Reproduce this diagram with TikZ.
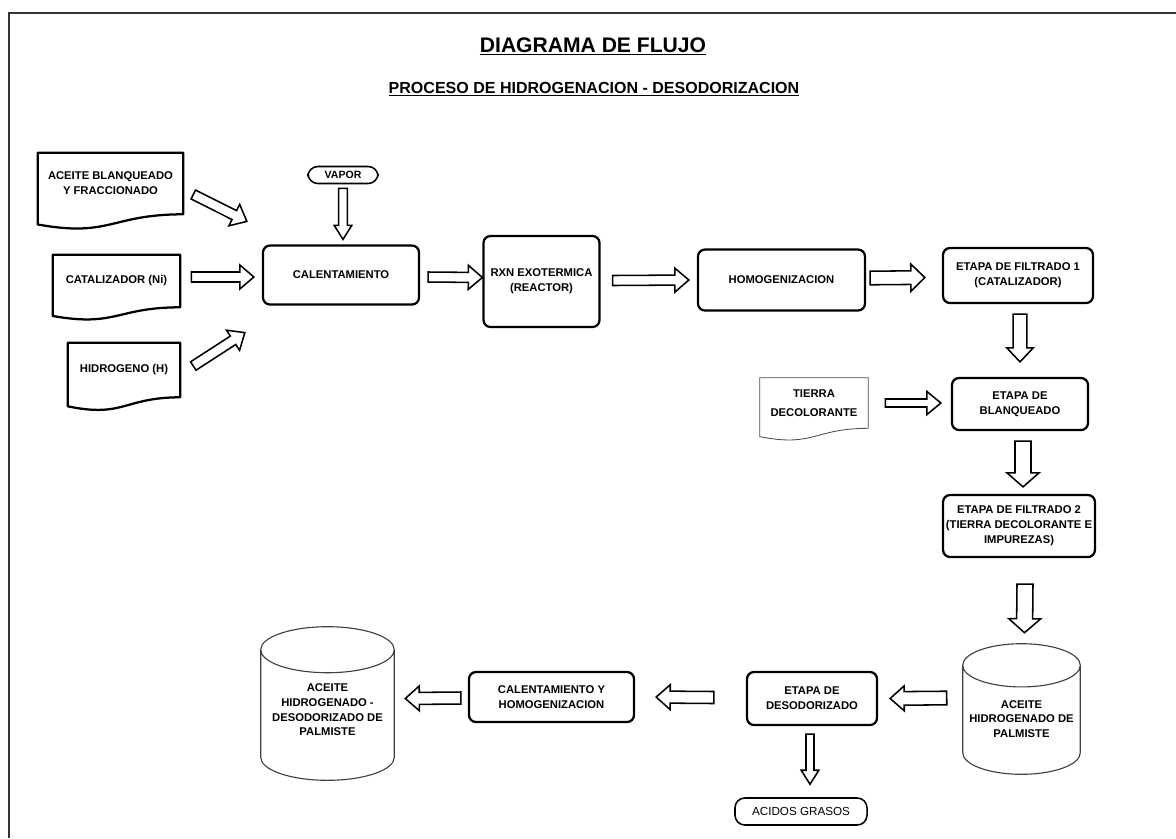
\documentclass[tikz,border=0pt]{standalone}
\usepackage{fontspec}
\setmainfont{Liberation Sans}
\usetikzlibrary{calc}

\tikzset{
  caja/.style={draw, line width=1.6pt, rounded corners=5pt, align=center, inner sep=2pt,
    font=\fontsize{8}{10.8}\selectfont\bfseries},
  doc/.style={align=center, inner sep=2pt, font=\fontsize{8}{10.5}\selectfont\bfseries},
  docline/.style={draw, line width=1.6pt, line join=round},
  docfino/.style={draw=black!70, line width=0.6pt},
  terminal/.style={draw, line width=1.1pt, rounded corners=7pt, align=center, inner sep=1pt},
  tanque/.style={align=center, inner sep=2pt, font=\fontsize{8}{10.4}\selectfont\bfseries},
  cyl/.style={draw=black!75, line width=0.8pt},
  bloque/.style={draw, line width=1.1pt, fill=white, line join=miter},
  cuerpo/.store in=\flcuerpo, punta/.store in=\flpunta, largo/.store in=\fllargo,
  cuerpo=0.125cm, punta=0.3cm, largo=0.35cm,
  ancha/.style={cuerpo=0.2cm, punta=0.4cm, largo=0.35cm}
}

% flecha de bloque hueca entre dos puntos
\newcommand{\flecha}[3][]{%
  \draw[bloque,#1] let \p1=(#2), \p2=(#3),
      \n1={atan2(\y2-\y1,\x2-\x1)}, \n2={veclen(\x2-\x1,\y2-\y1)} in
    ($(\p1)+(\n1+90:\flcuerpo)$)
    -- ($(\p1)+(\n1:\n2-\fllargo)+(\n1+90:\flcuerpo)$)
    -- ($(\p1)+(\n1:\n2-\fllargo)+(\n1+90:\flpunta)$)
    -- (\p2)
    -- ($(\p1)+(\n1:\n2-\fllargo)+(\n1-90:\flpunta)$)
    -- ($(\p1)+(\n1:\n2-\fllargo)+(\n1-90:\flcuerpo)$)
    -- ($(\p1)+(\n1-90:\flcuerpo)$) -- cycle;}

% contorno de documento (borde inferior ondulado)
\newcommand{\documento}[2][docline]{%
  \draw[#1] (#2.north west) -- (#2.north east) -- (#2.south east)
    .. controls (#2.south) and ($(#2.south)!-0.38!(#2.north)$)
    .. ($(#2.south west)!-0.165!(#2.north west)$) -- cycle;}

% cilindro (tanque)
\newcommand{\cilindro}[2]{%
  \draw[cyl] let \p1=(#1.north west), \p2=(#1.south east), \n1={(\x2-\x1)/2} in
    (\x1,\y1-#2) -- (\x1,\y2+#2)
    arc[start angle=180, end angle=360, x radius=\n1, y radius=#2] -- (\x2,\y1-#2)
    (\x1,\y1-#2) arc[start angle=180, end angle=-180, x radius=\n1, y radius=#2];}

\begin{document}
\begin{tikzpicture}[x=0.025cm, y=-0.025cm]
\useasboundingbox (0,0) rectangle (1176,838);
\draw[line width=1.3pt, black!80] (9,838) -- (9,13) -- (1176,13);

% titulos
\node[anchor=base, font=\fontsize{15}{18}\selectfont\bfseries] (titulo) at (593,52)
  {\underline{DIAGRAMA DE FLUJO}};
\node[anchor=base, font=\fontsize{11.4}{14}\selectfont\bfseries] (subtitulo) at (594,93)
  {\underline{PROCESO DE HIDROGENACION - DESODORIZACION}};

% entradas
\node[doc, minimum width=3.625cm, minimum height=1.525cm] (aceite) at (110.5,183.5)
  {ACEITE BLANQUEADO\\Y FRACCIONADO};
\node[doc, minimum width=3.175cm, minimum height=1.3cm] (catal) at (116.5,281) {CATALIZADOR (Ni)};
\node[doc, minimum width=2.8cm, minimum height=1.35cm] (hidro) at (124,370) {HIDROGENO (H)};
\node[doc, minimum width=2.7cm, minimum height=1.25cm, font=\fontsize{8}{13.5}\selectfont\bfseries]
  (tierra) at (814,403) {TIERRA\\DECOLORANTE};
\documento{aceite}
\documento{catal}
\documento{hidro}
\documento[docfino]{tierra}

\node[terminal, minimum width=1.75cm, minimum height=0.425cm,
  font=\fontsize{7.5}{9}\selectfont\bfseries] (vapor) at (343,175) {VAPOR};
\node[terminal, minimum width=3.3cm, minimum height=0.675cm,
  font=\fontsize{8.3}{10}\selectfont] (acidos) at (801,811.5) {ACIDOS GRASOS};

% etapas del proceso
\node[caja, minimum width=3.9cm, minimum height=1.475cm] (cal) at (341,275) {CALENTAMIENTO};
\node[caja, minimum width=2.9cm, minimum height=2.275cm] (rxn) at (541.5,281.5) {RXN EXOTERMICA\\(REACTOR)};
\node[caja, minimum width=4.175cm, minimum height=1.525cm] (homo) at (781.5,280) {HOMOGENIZACION};
\node[caja, minimum width=3.75cm, minimum height=1.375cm] (filt1) at (1018,275.5)
  {ETAPA DE FILTRADO 1\\(CATALIZADOR)};
\node[caja, minimum width=3.4cm, minimum height=1.3cm] (blanq) at (1020,404) {ETAPA DE\\BLANQUEADO};
\node[caja, minimum width=3.7cm, minimum height=1.55cm] (filt2) at (1019,526)
  {ETAPA DE FILTRADO 2\\(TIERRA DECOLORANTE E\\IMPUREZAS)};
\node[caja, minimum width=3.25cm, minimum height=1.325cm] (desod) at (812,698.5) {ETAPA DE\\DESODORIZADO};
\node[caja, minimum width=4.125cm, minimum height=1.25cm] (calhom) at (551.5,697)
  {CALENTAMIENTO Y\\HOMOGENIZACION};

% tanques
\node[minimum width=2.925cm, minimum height=3.25cm,
  label={[tanque, yshift=-7pt]center:{ACEITE\\HIDROGENADO DE\\PALMISTE}}] (tanqueA) at (1021.5,709) {};
\node[minimum width=3.325cm, minimum height=3.825cm,
  label={[tanque, yshift=-4.6pt]center:{ACEITE\\HIDROGENADO -\\DESODORIZADO DE\\PALMISTE}}] (tanqueB) at (327.5,703.5) {};
\cilindro{tanqueA}{0.54cm}
\cilindro{tanqueB}{0.575cm}

% flujos
\flecha{$(aceite.east)+(10,11)$}{$(cal.north west)+(-15,-23)$}
\flecha{$(catal.east)+(11,-4)$}{$(cal.west)+(-8,2)$}
\flecha{$(hidro.east)+(13,-4)$}{$(cal.south west)+(-17,27)$}
\flecha[cuerpo=0.11cm, punta=0.22cm]{$(vapor.south)+(0,4)$}{$(cal.north)+(2,-5)$}
\flecha{$(cal.east)+(8,2)$}{$(rxn.west)+(0,-4)$}
\flecha{$(rxn.east)+(12,-1)$}{$(homo.west)+(-8,0)$}
\flecha[cuerpo=0.17cm, punta=0.34cm]{$(homo.east)+(4,-2)$}{$(filt1.west)+(-17,2)$}
\flecha[cuerpo=0.17cm, punta=0.33cm]{$(filt1.south)+(2,10)$}{$(blanq.north)+(0,-15)$}
\flecha[cuerpo=0.1cm, punta=0.29cm]{$(tierra.east)+(17,0)$}{$(blanq.west)+(-10,-1)$}
\flecha[ancha]{$(blanq.south)+(3,10)$}{$(filt2.north)+(4,-7)$}
\flecha[ancha]{$(filt2.south)+(6,26)$}{$(tanqueA.north)+(3,-11)$}
\flecha[cuerpo=0.17cm, punta=0.31cm]{$(tanqueA.west)+(-16,-11)$}{$(desod.east)+(12,0)$}
\flecha[cuerpo=0.1cm, punta=0.22cm]{$(desod.south)+(-2,8)$}{$(acidos.north)+(9,-13)$}
\flecha[cuerpo=0.15cm, punta=0.31cm]{$(desod.west)+(-32,-1)$}{$(calhom.east)+(21,0)$}
\flecha[cuerpo=0.15cm, punta=0.31cm]{$(calhom.west)+(-7,1)$}{$(tanqueB.east)+(11,-5)$}
\end{tikzpicture}
\end{document}
